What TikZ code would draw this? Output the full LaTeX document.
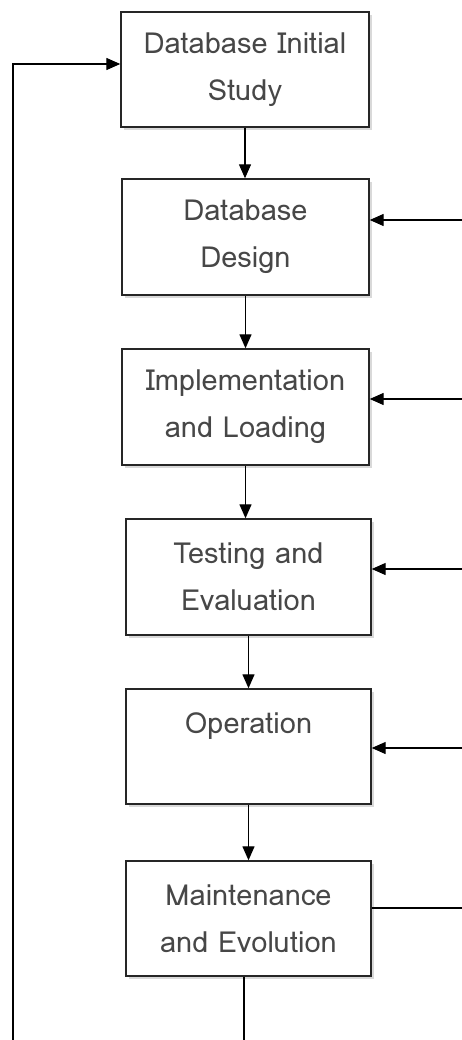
\documentclass[tikz,border=0pt]{standalone}
\usepackage{fontspec}
\newfontfamily\lomafont{Loma}
\usetikzlibrary{arrows.meta,shadows}
\begin{document}
\begin{tikzpicture}[x=1pt,y=-1pt,
  stage/.style={draw=black!85, line width=1.4pt, fill=white, rectangle, inner sep=0pt,
    align=center, text=black!72, font=\lomafont\fontsize{29}{47}\selectfont,
    drop shadow={shadow xshift=3pt, shadow yshift=-3pt, opacity=0.3, fill=black!50}},
  arr/.style={draw=black, line width=1.3pt, -{Triangle[length=14pt,width=12pt]}},
  ln/.style={draw=black, line width=1.3pt}]
\useasboundingbox (0,0) rectangle (462,1040);
\node[stage, minimum width=248pt, minimum height=115pt] (b1) at (245,69.5) {Database Initial\\Study};
\node[stage, minimum width=247pt, minimum height=116pt] (b2) at (245.5,237) {Database\\Design};
\node[stage, minimum width=247pt, minimum height=116pt] (b3) at (245.5,407) {Implementation\\and Loading};
\node[stage, minimum width=245pt, minimum height=116pt] (b4) at (248.5,577) {Testing and\\Evaluation};
\node[stage, minimum width=245pt, minimum height=115pt] (b5) at (248.5,746.5) {Operation\\\mbox{}};
\node[stage, minimum width=245pt, minimum height=115pt] (b6) at (248.5,918.5) {Maintenance\\and Evolution};
% vertical flow
\draw[arr] (b1.south) -- (b1.south |- b2.north);
\draw[arr] (b2.south) -- (b2.south |- b3.north);
\draw[arr] (b3.south) -- (b3.south |- b4.north);
\draw[arr] (b4.south) -- (b4.south |- b5.north);
\draw[arr] (b5.south) -- (b5.south |- b6.north);
% feedback from right edge
\coordinate (r2) at (462,220);
\coordinate (r3) at (462,399);
\coordinate (r4) at (462,569);
\coordinate (r5) at (462,748);
\coordinate (r6) at (462,908);
\draw[arr] (r2) -- (r2 -| b2.east);
\draw[arr] (r3) -- (r3 -| b3.east);
\draw[arr] (r4) -- (r4 -| b4.east);
\draw[arr] (r5) -- (r5 -| b5.east);
\draw[ln] (r6 -| b6.east) -- (r6);
% loop back
\coordinate (bot) at (244,1040);
\coordinate (bl) at (13,1040);
\coordinate (tl) at (13,64);
\draw[ln] (b6.south -| bot) -- (bot);
\draw[arr] (bl) -- (tl) -- (tl -| b1.west);
\end{tikzpicture}
\end{document}
